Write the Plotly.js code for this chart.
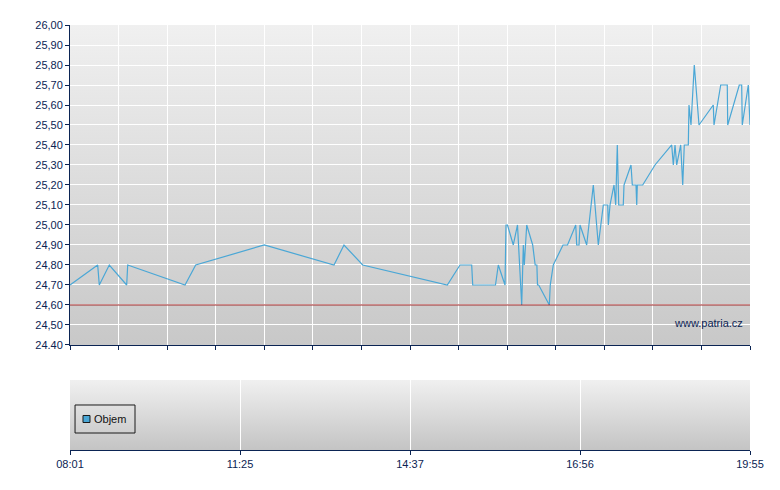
<!DOCTYPE html>
<html>
<head>
<meta charset="utf-8">
<script src="https://cdn.plot.ly/plotly-3.0.1.min.js"></script>
<style>html,body{margin:0;padding:0;background:#fff;}#chart{width:780px;height:490px;}</style>
</head>
<body>
<div id="chart"></div>
<script>
// Trade positions along the (index-based) session axis, 0 = 08:01, 14 = 19:55
var tradePos = [0, 0.570, 0.603, 0.809, 1.167, 1.188, 2.368, 2.588, 4.000, 5.435, 5.641, 6.026, 7.768,
  8.029, 8.270, 8.291, 8.760, 8.818, 8.956, 8.976, 9.007, 9.127, 9.213, 9.300, 9.333, 9.353, 9.403,
  9.526, 9.577, 9.612, 9.625, 9.650, 9.868, 9.888, 9.950, 10.150, 10.243, 10.412, 10.432, 10.480,
  10.500, 10.638, 10.774, 10.877, 10.980, 11.071, 11.083, 11.118, 11.200, 11.235, 11.268, 11.297,
  11.391, 11.406, 11.550, 11.577, 11.653, 11.668, 11.680, 11.791, 12.044, 12.388, 12.421, 12.456,
  12.491, 12.573, 12.615, 12.647, 12.730, 12.744, 12.785, 12.853, 12.950, 13.244, 13.259, 13.397,
  13.532, 13.541, 13.779, 13.829, 13.841, 13.965, 14.000];
var prices = [24.70, 24.80, 24.70, 24.80, 24.70, 24.80, 24.70, 24.80, 24.90, 24.80, 24.90, 24.80, 24.70,
  24.80, 24.80, 24.70, 24.70, 24.80, 24.70, 25.00, 25.00, 24.90, 25.00, 24.60, 24.90, 24.80, 25.00,
  24.90, 24.80, 24.80, 24.70, 24.70, 24.60, 24.70, 24.80, 24.90, 24.90, 25.00, 24.90, 24.90,
  25.00, 24.90, 25.20, 24.90, 25.10, 25.10, 25.00, 25.10, 25.20, 25.10, 25.40, 25.10,
  25.10, 25.20, 25.30, 25.20, 25.20, 25.10, 25.20, 25.20, 25.30, 25.40, 25.30, 25.40,
  25.30, 25.40, 25.20, 25.40, 25.40, 25.60, 25.50, 25.80, 25.50, 25.60, 25.50, 25.70,
  25.70, 25.50, 25.70, 25.70, 25.50, 25.70, 25.50];
var prevClose = 24.60;
// Volume panel: no volume bars are visible in the reference
var volumePos = [0];
var volumes = [null];
var volumeName = 'Objem';

var yTickVals = [24.4, 24.5, 24.6, 24.7, 24.8, 24.9, 25.0, 25.1, 25.2, 25.3, 25.4, 25.5, 25.6, 25.7, 25.8, 25.9, 26.0];
var yTickText = ['24.40', '24,50', '24,60', '24,70', '24,80', '24,90', '25,00', '25,10', '25,20', '25,30', '25,40', '25,50', '25,60', '25,70', '25,80', '25,90', '26,00'];
var xTickVals = [0, 3.5, 7, 10.5, 14];
var xTickText = ['08:01', '11:25', '14:37', '16:56', '19:55'];

var NAVY = '#0b2453';
var BLUE = '#4aa7d6';
var FONT = {family: 'Liberation Sans, Arial, sans-serif', size: 11, color: NAVY};

function grad(top, bottom) {
  var svg = "<svg xmlns='http://www.w3.org/2000/svg' width='10' height='100' preserveAspectRatio='none'>" +
    "<defs><linearGradient id='g' x1='0' y1='0' x2='0' y2='1'>" +
    "<stop offset='0' stop-color='" + top + "'/><stop offset='1' stop-color='" + bottom + "'/>" +
    "</linearGradient></defs><rect x='0' y='0' width='10' height='100' fill='url(#g)'/></svg>";
  return 'data:image/svg+xml;charset=utf-8,' + encodeURIComponent(svg);
}

var traces = [
  {
    x: tradePos, y: prices, xaxis: 'x', yaxis: 'y', type: 'scatter', mode: 'lines',
    line: {color: BLUE, width: 1.2}, showlegend: false, hoverinfo: 'skip'
  },
  {
    x: volumePos, y: volumes, xaxis: 'x2', yaxis: 'y2', type: 'bar',
    name: volumeName, marker: {color: BLUE}, showlegend: false
  }
];

var layout = {
  width: 780, height: 490,
  margin: {l: 70, r: 30, t: 25, b: 40},
  paper_bgcolor: '#ffffff', plot_bgcolor: 'rgba(0,0,0,0)',
  font: FONT,
  showlegend: false,
  xaxis: {
    domain: [0, 1], range: [0, 14], anchor: 'y', dtick: 1, tick0: 0,
    showgrid: true, gridcolor: '#ffffff', gridwidth: 1, zeroline: false,
    showline: true, linecolor: NAVY, linewidth: 1,
    ticks: 'outside', ticklen: 4, tickcolor: NAVY, showticklabels: false, fixedrange: true
  },
  yaxis: {
    domain: [0.2471, 1], range: [24.4, 26.0], anchor: 'x',
    tickmode: 'array', tickvals: yTickVals, ticktext: yTickText,
    showgrid: true, gridcolor: '#ffffff', gridwidth: 1, zeroline: false,
    showline: true, linecolor: NAVY, linewidth: 1,
    ticks: 'outside', ticklen: 4, tickcolor: NAVY, tickfont: FONT, fixedrange: true
  },
  xaxis2: {
    domain: [0, 1], range: [0, 14], anchor: 'y2',
    tickmode: 'array', tickvals: xTickVals, ticktext: xTickText,
    showgrid: true, gridcolor: '#ffffff', gridwidth: 1, zeroline: false,
    showline: true, linecolor: NAVY, linewidth: 1,
    ticks: 'outside', ticklen: 4, tickcolor: NAVY, tickfont: FONT, fixedrange: true
  },
  yaxis2: {
    domain: [0, 0.1647], range: [0, 1], anchor: 'x2',
    showgrid: false, zeroline: false, showline: false, showticklabels: false, ticks: '', fixedrange: true
  },
  images: [
    {source: grad('#f0f0f0', '#c8c8c8'), xref: 'x', yref: 'y', x: 0, y: 26.0, sizex: 14, sizey: 1.6,
     xanchor: 'left', yanchor: 'top', sizing: 'stretch', layer: 'below'},
    {source: grad('#f0f0f0', '#c4c4c4'), xref: 'x2', yref: 'y2', x: 0, y: 1, sizex: 14, sizey: 1,
     xanchor: 'left', yanchor: 'top', sizing: 'stretch', layer: 'below'}
  ],
  shapes: [
    {type: 'line', xref: 'x', yref: 'y', x0: 0, x1: 14, y0: prevClose, y1: prevClose,
     line: {color: '#9e2424', width: 1}, layer: 'above'},
    // legend box for the volume panel
    {type: 'rect', xref: 'paper', yref: 'paper', x0: 0.0074, x1: 0.0956, y0: 0.0400, y1: 0.1059,
     line: {color: '#1a1a1a', width: 1}, fillcolor: 'rgba(0,0,0,0)', layer: 'above'},
    {type: 'rect', xref: 'paper', yref: 'paper', x0: 0.0191, x1: 0.0294, y0: 0.0647, y1: 0.0812,
     line: {color: '#1a1a1a', width: 1}, fillcolor: BLUE, layer: 'above'}
  ],
  annotations: [
    {text: 'www.patria.cz', xref: 'paper', yref: 'paper', x: 0.993, y: 0.299, xanchor: 'right', yanchor: 'middle',
     showarrow: false, font: {family: 'Liberation Sans, Arial, sans-serif', size: 11, color: NAVY}},
    {text: volumeName, xref: 'paper', yref: 'paper', x: 0.0345, y: 0.0729, xanchor: 'left', yanchor: 'middle',
     showarrow: false, xshift: -1, font: {family: 'Liberation Sans, Arial, sans-serif', size: 11, color: '#111'}}
  ]
};

Plotly.newPlot('chart', traces, layout, {displayModeBar: false, staticPlot: true});
</script>
</body>
</html>
